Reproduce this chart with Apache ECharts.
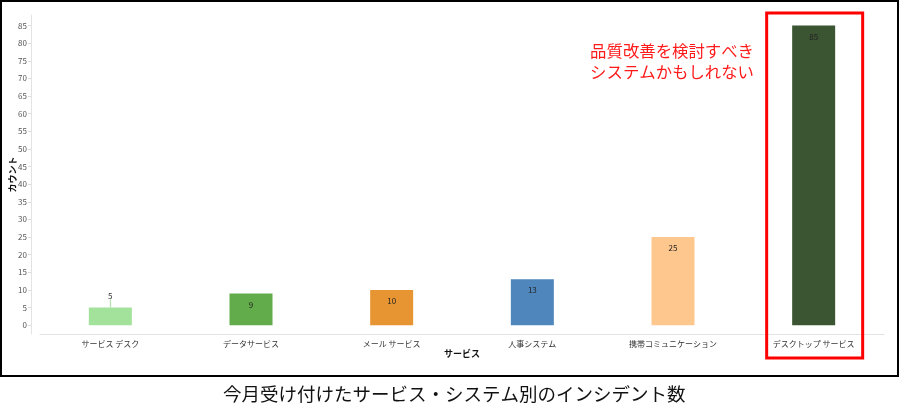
<!DOCTYPE html>
<html>
<head>
<meta charset="utf-8">
<script src="https://cdn.jsdelivr.net/npm/echarts@6/dist/echarts.min.js"></script>
<style>
html,body{margin:0;padding:0;background:#fff;}
#chart{width:900px;height:420px;}
</style>
</head>
<body>
<div id="chart"></div>
<script>
const categories = ['サービス デスク', 'データサービス', 'メール サービス', '人事システム', '携帯コミュニケーション', 'デスクトップ サービス'];
const counts = [5, 9, 10, 13, 25, 85];
const barColors = ['#a3e29b', '#63ac4b', '#e69532', '#4f86bb', '#fec78e', '#3b5432'];
const yTicks = [0, 5, 10, 15, 20, 25, 30, 35, 40, 45, 50, 55, 60, 65, 70, 75, 80, 85];
const titleText = '今月受け付けたサービス・システム別のインシデント数';
const noteLines = ['品質改善を検討すべき', 'システムかもしれない'];
const highlightIndex = 5;

const FONT = '"Noto Sans CJK JP", "Noto Sans", sans-serif';
const chart = echarts.init(document.getElementById('chart'));

const option = {
  animation: false,
  backgroundColor: '#ffffff',
  textStyle: { fontFamily: FONT },
  grid: { left: 40, right: 16, top: 15, bottom: 86, containLabel: false, outerBoundsMode: 'none' },
  xAxis: {
    type: 'category',
    data: categories,
    name: 'サービス',
    nameLocation: 'middle',
    nameGap: 15,
    nameMoveOverlap: false,
    nameTextStyle: { fontFamily: FONT, fontSize: 9, fontWeight: 'bold', color: '#111' },
    axisLine: { onZero: false, lineStyle: { color: '#e3e3e3', width: 1 } },
    axisTick: { alignWithLabel: true, length: 3, lineStyle: { color: '#dcdcdc' } },
    axisLabel: { fontFamily: FONT, fontSize: 8, color: '#333', margin: 6, interval: 0 }
  },
  yAxis: {
    type: 'value',
    min: -2.5,
    max: 88,
    offset: 9,
    name: 'カウント',
    nameLocation: 'middle',
    nameGap: 14,
    nameRotate: 90,
    nameMoveOverlap: false,
    nameTextStyle: { fontFamily: FONT, fontSize: 9, fontWeight: 'bold', color: '#111' },
    axisLine: { show: true, lineStyle: { color: '#e3e3e3', width: 1 } },
    axisTick: { show: true, length: 3, customValues: yTicks, lineStyle: { color: '#dcdcdc' } },
    axisLabel: { fontFamily: FONT, fontSize: 8, color: '#555', margin: 4, customValues: yTicks },
    splitLine: { show: false }
  },
  series: [{
    type: 'bar',
    barWidth: 43,
    data: counts.map((v, i) => ({
      value: v,
      itemStyle: { color: barColors[i] },
      label: i === 0
        ? { position: 'top', distance: 5, color: '#333' }
        : { position: 'insideTop', distance: 7, color: '#222' },
      labelLine: i === 0 ? { show: true, lineStyle: { color: barColors[0], width: 1 } } : { show: false }
    })),
    label: { show: true, fontFamily: FONT, fontSize: 8 },
    labelLayout: function (p) { return p.dataIndex === 0 ? { dy: -3 } : {}; }
  }],
  graphic: [
    { type: 'rect', shape: { x: 1, y: 1, width: 897, height: 375 }, style: { fill: 'none', stroke: '#000', lineWidth: 2 }, silent: true },
    {
      type: 'text', left: 223, top: 385,
      style: { text: titleText, font: '18.5px ' + FONT, fill: '#111' }
    },
    {
      type: 'text', right: 146, top: 40,
      style: { text: noteLines.join('\n'), font: '16.4px ' + FONT, fill: '#ff1a1a', align: 'right', lineHeight: 21 }
    }
  ]
};
chart.setOption(option);

// highlight rectangle around the selected category (positioned from the axis scale)
const cx = chart.convertToPixel({ xAxisIndex: 0 }, categories[highlightIndex]);
chart.setOption({
  graphic: [
    { type: 'rect', id: 'hl', shape: { x: cx - 47, y: 13, width: 96, height: 345 }, style: { fill: 'none', stroke: '#ff0000', lineWidth: 3 }, silent: true, z: 100 }
  ]
});
</script>
</body>
</html>
